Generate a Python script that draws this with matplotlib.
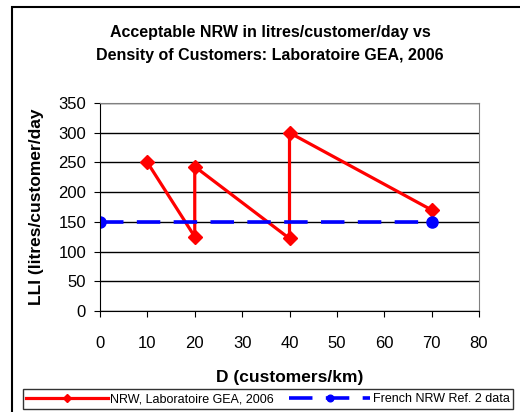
import matplotlib.pyplot as plt
from matplotlib.patches import Rectangle

plt.rcParams['font.family'] = ['Liberation Sans', 'DejaVu Sans']

nrw_x = [10, 20, 20, 40, 40, 70]
nrw_y = [250, 125, 243, 122, 300, 170]
ref_x = [0, 70]
ref_y = [150, 150]

W, H = 520, 412
fig = plt.figure(figsize=(W / 100, H / 100), dpi=100)
ax = fig.add_axes([100 / W, 1 - 311 / H, 379 / W, 208 / H])

# outer chart frame
fig.patches.append(Rectangle((12 / W, -0.05), 1.1, 1 - 7 / H + 0.05, transform=fig.transFigure,
                             fill=False, edgecolor='black', linewidth=1.5))

ax.plot(nrw_x, nrw_y, color='red', lw=2.3, marker='D', ms=7, label='NRW, Laboratoire GEA, 2006')
ax.plot(ref_x, ref_y, color='blue', lw=2.6, ls=(0, (6.5, 3.7)), marker='o', ms=8,
        label='French NRW Ref. 2 data')

ax.set_xlim(0, 80)
ax.set_ylim(0, 350)
ax.set_xticks(range(0, 81, 10))
ax.set_yticks(range(0, 351, 50))
ax.yaxis.grid(True, color='black', lw=1)
ax.set_axisbelow(True)
ax.tick_params(labelsize=12, direction='out', length=4)
ax.tick_params(axis='x', pad=14)
ax.tick_params(axis='y', pad=6)
for s in ['top', 'right']:
    ax.spines[s].set_color('gray')
ax.spines['left'].set_color('black')
ax.spines['bottom'].set_color('black')

ax.set_xlabel('D (customers/km)', fontsize=12.5, fontweight='bold', labelpad=14)
ax.set_ylabel('LLI (litres/customer/day', fontsize=12.5, fontweight='bold', labelpad=10)
fig.text(270 / W, 1 - 44 / H, 'Acceptable NRW in litres/customer/day vs\nDensity of Customers: Laboratoire GEA, 2006',
         ha='center', va='center', fontsize=11.5, fontweight='bold', linespacing=1.6)

leg = fig.legend(loc='center', bbox_to_anchor=(268 / W, 1 - 399 / H), ncol=2, fontsize=9,
                 frameon=True, fancybox=False, edgecolor='black', handlelength=6.5,
                 columnspacing=1.2, handletextpad=0.2, borderpad=0.3, markerscale=0.6)
leg.get_frame().set_linewidth(1)

fig.savefig('out.png', dpi=100)
